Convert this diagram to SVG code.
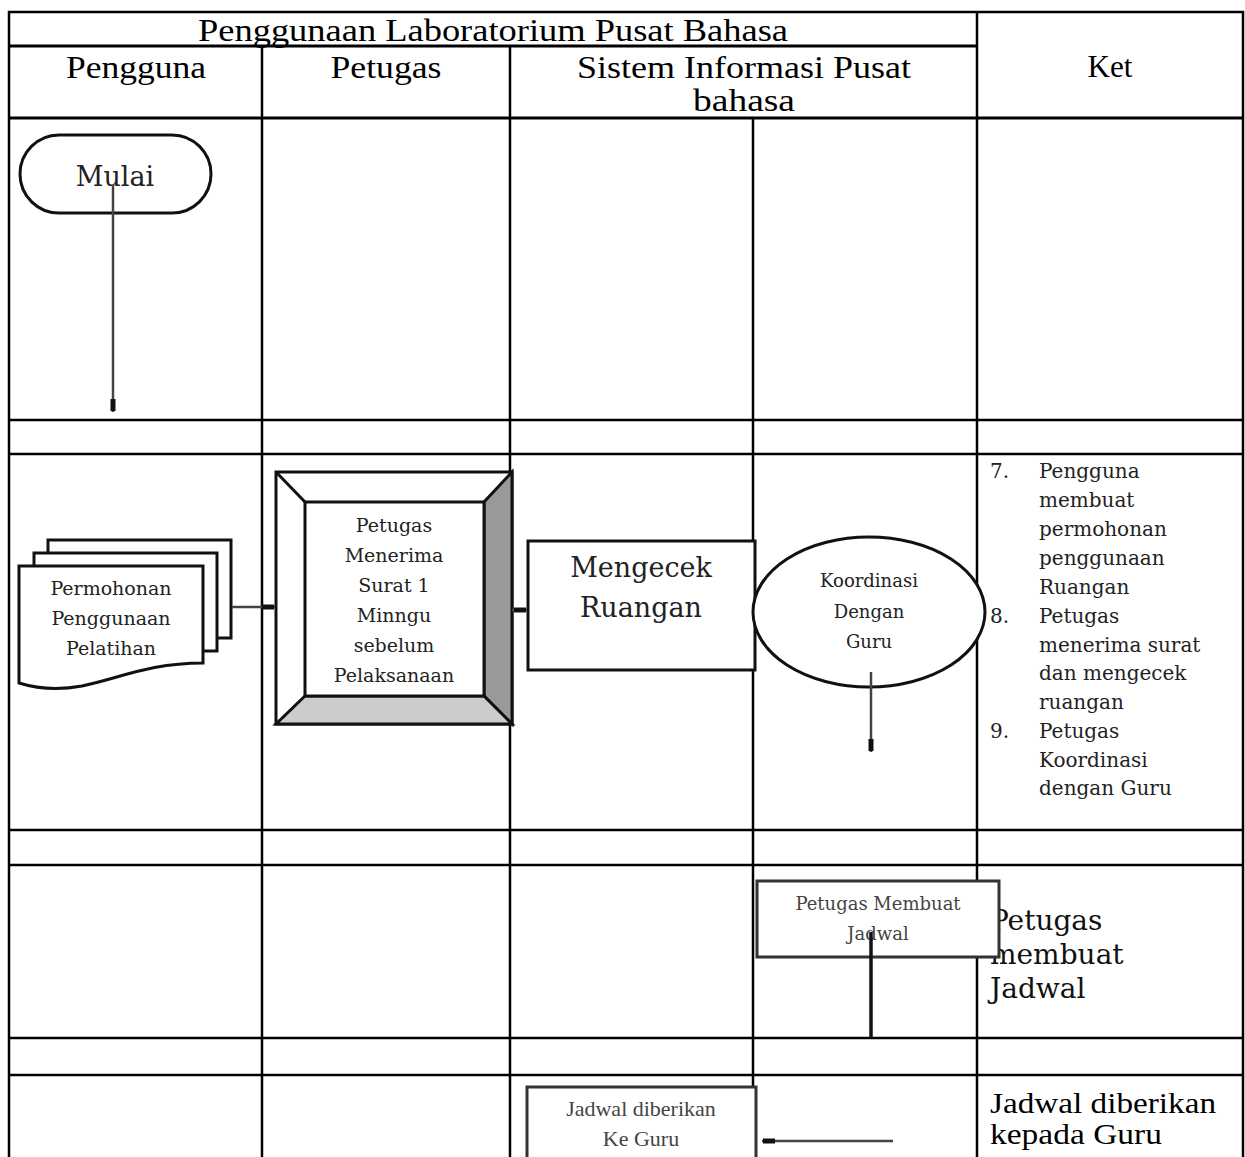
<svg xmlns="http://www.w3.org/2000/svg" width="1245" height="1157" viewBox="0 0 1245 1157">
<style>
.grid{stroke:#000;stroke-width:2.5;fill:none}
.hd{font-family:"Liberation Serif","Times New Roman",serif;font-size:31px;fill:#000}
.bd{font-family:"DejaVu Serif","Liberation Serif",serif;fill:#222}
.sh{stroke:#111;stroke-width:3;fill:#fff}
.cn{stroke:#444;stroke-width:2.5;fill:none}
</style>
<defs>
<marker id="ah" markerWidth="14" markerHeight="6" refX="13" refY="3" orient="auto" markerUnits="userSpaceOnUse" viewBox="0 0 14 6">
<rect x="0" y="0.5" width="12" height="5" fill="#111"/>
</marker>
</defs>
<rect width="1245" height="1157" fill="#fff"/>
<g id="table">
<rect class="grid" x="9" y="12" width="1234" height="1160"/>
<line class="grid" x1="9" y1="46" x2="977" y2="46" style="stroke-width:3"/>
<line class="grid" x1="977" y1="12" x2="977" y2="1157"/>
<line class="grid" x1="262" y1="46" x2="262" y2="1157"/>
<line class="grid" x1="510" y1="46" x2="510" y2="1157"/>
<line class="grid" x1="753" y1="118" x2="753" y2="1157"/>
<line class="grid" x1="9" y1="118" x2="1243" y2="118" style="stroke-width:3"/>
<line class="grid" x1="9" y1="420" x2="1243" y2="420"/>
<line class="grid" x1="9" y1="454" x2="1243" y2="454"/>
<line class="grid" x1="9" y1="830" x2="1243" y2="830"/>
<line class="grid" x1="9" y1="865" x2="1243" y2="865"/>
<line class="grid" x1="9" y1="1038" x2="1243" y2="1038"/>
<line class="grid" x1="9" y1="1075" x2="1243" y2="1075"/>
<text class="hd" x="493" y="41" text-anchor="middle" textLength="590" lengthAdjust="spacingAndGlyphs">Penggunaan Laboratorium Pusat Bahasa</text>
<text class="hd" x="136" y="78" text-anchor="middle" textLength="140" lengthAdjust="spacingAndGlyphs">Pengguna</text>
<text class="hd" x="386" y="78" text-anchor="middle" textLength="111" lengthAdjust="spacingAndGlyphs">Petugas</text>
<text class="hd" x="744" y="78" text-anchor="middle" textLength="334" lengthAdjust="spacingAndGlyphs">Sistem Informasi Pusat</text>
<text class="hd" x="744" y="111" text-anchor="middle" textLength="102" lengthAdjust="spacingAndGlyphs">bahasa</text>
<text class="hd" x="1110" y="77" text-anchor="middle" textLength="45" lengthAdjust="spacingAndGlyphs">Ket</text>
</g>
<g id="ket">
<g class="bd" font-size="20">
<text x="990" y="478">7.</text><text x="1039" y="478">Pengguna</text>
<text x="1039" y="507">membuat</text>
<text x="1039" y="536">permohonan</text>
<text x="1039" y="565">penggunaan</text>
<text x="1039" y="594">Ruangan</text>
<text x="990" y="623">8.</text><text x="1039" y="623">Petugas</text>
<text x="1039" y="652">menerima surat</text>
<text x="1039" y="680">dan mengecek</text>
<text x="1039" y="709">ruangan</text>
<text x="990" y="738">9.</text><text x="1039" y="738">Petugas</text>
<text x="1039" y="767">Koordinasi</text>
<text x="1039" y="795">dengan Guru</text>
</g>
<g class="bd" font-size="28" style="fill:#111">
<text x="990" y="930">Petugas</text>
<text x="990" y="964">membuat</text>
<text x="990" y="998">Jadwal</text>
</g>
<g class="hd" style="font-size:29px">
<text x="990" y="1113" textLength="226" lengthAdjust="spacingAndGlyphs">Jadwal diberikan</text>
<text x="990" y="1144" textLength="172" lengthAdjust="spacingAndGlyphs">kepada Guru</text>
</g>
</g>
<g id="mulai">
<rect class="sh" x="20" y="135" width="191" height="78" rx="39" ry="39"/>
<text class="bd" x="115" y="186" font-size="27" text-anchor="middle">Mulai</text>
</g>
<g id="permohonan">
<rect class="sh" x="48" y="540" width="183" height="98"/>
<rect class="sh" x="34" y="553" width="183" height="98"/>
<path class="sh" d="M19,566 H203 V663 C150,663 120,678 82,686 C55,691 35,688 19,683 Z"/>
<g class="bd" font-size="19" text-anchor="middle">
<text x="111" y="595">Permohonan</text>
<text x="111" y="625">Penggunaan</text>
<text x="111" y="655">Pelatihan</text>
</g>
</g>
<g id="menerima">
<rect x="276" y="472" width="236" height="252" fill="#fff" stroke="#111" stroke-width="3"/>
<polygon points="484,502 512,472 512,724 484,696" fill="#999" stroke="#111" stroke-width="3"/>
<polygon points="305,696 484,696 512,724 276,724" fill="#ccc" stroke="#111" stroke-width="3"/>
<line x1="276" y1="472" x2="305" y2="502" stroke="#111" stroke-width="3"/>
<rect x="305" y="502" width="179" height="194" fill="#fff" stroke="#111" stroke-width="3"/>
<g class="bd" font-size="19" text-anchor="middle">
<text x="394" y="532">Petugas</text>
<text x="394" y="562">Menerima</text>
<text x="394" y="592">Surat 1</text>
<text x="394" y="622">Minngu</text>
<text x="394" y="652">sebelum</text>
<text x="394" y="682">Pelaksanaan</text>
</g>
</g>
<g id="mengecek">
<rect class="sh" x="528" y="541" width="227" height="129"/>
<g class="bd" font-size="27" text-anchor="middle">
<text x="641" y="577">Mengecek</text>
<text x="641" y="617">Ruangan</text>
</g>
</g>
<g id="koordinasi">
<ellipse class="sh" cx="869" cy="612" rx="116" ry="75"/>
<g class="bd" font-size="18" text-anchor="middle">
<text x="869" y="587">Koordinasi</text>
<text x="869" y="618">Dengan</text>
<text x="869" y="648">Guru</text>
</g>
</g>
<g id="jadwal">
<rect class="sh" x="757" y="881" width="242" height="76" style="stroke:#333"/>
<g class="bd" font-size="18" text-anchor="middle" style="fill:#444">
<text x="878" y="910">Petugas Membuat</text>
<text x="878" y="940">Jadwal</text>
</g>
</g>
<g id="diberikan">
<rect class="sh" x="527" y="1087" width="229" height="80" style="stroke:#333"/>
<g class="hd" text-anchor="middle" style="font-size:22px;fill:#444">
<text x="641" y="1116">Jadwal diberikan</text>
<text x="641" y="1146">Ke Guru</text>
</g>
</g>
<g id="connectors">
<line class="cn" x1="113" y1="185" x2="113" y2="412" marker-end="url(#ah)"/>
<line class="cn" x1="232" y1="607" x2="275" y2="607" marker-end="url(#ah)"/>
<line class="cn" x1="512" y1="610" x2="527" y2="610" marker-end="url(#ah)"/>
<line class="cn" x1="871" y1="672" x2="871" y2="752" marker-end="url(#ah)"/>
<line x1="871" y1="932" x2="871" y2="1038" stroke="#111" stroke-width="3.5"/>
<line class="cn" x1="893" y1="1141" x2="762" y2="1141" marker-end="url(#ah)"/>
</g>
</svg>
